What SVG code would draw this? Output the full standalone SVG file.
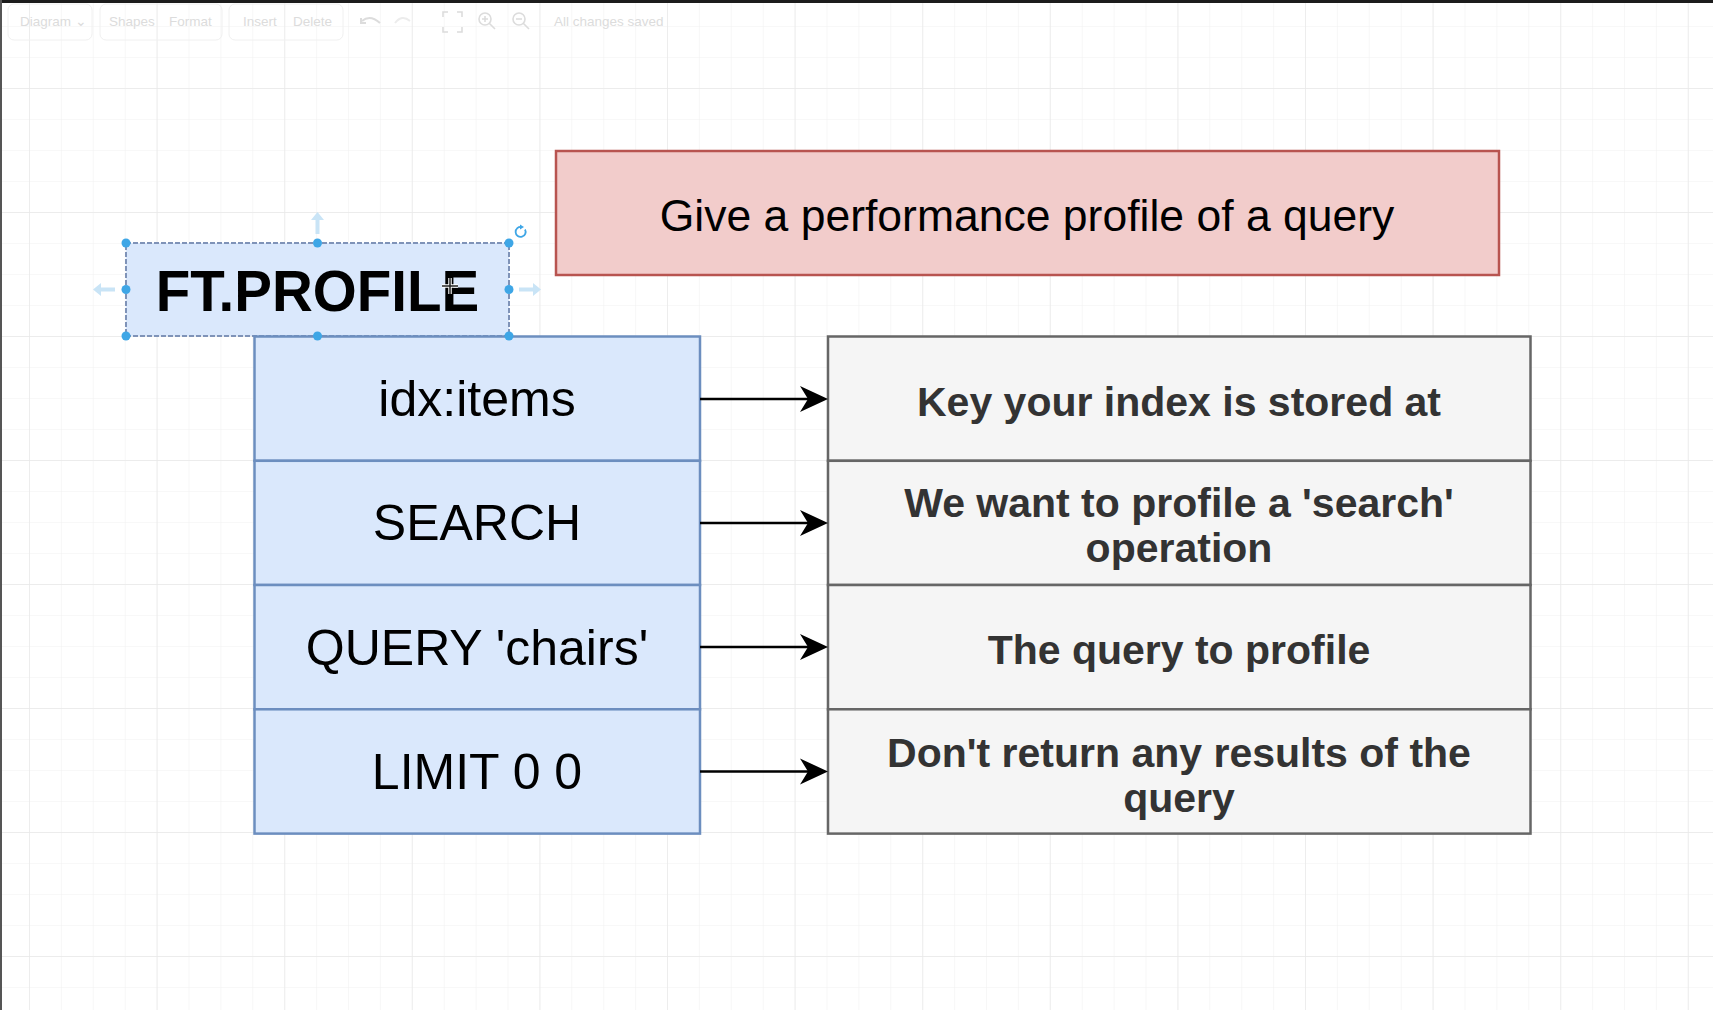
<svg xmlns="http://www.w3.org/2000/svg" width="1713" height="1010" viewBox="0 0 1713 1010">
<defs>
<style>
.tb{font-family:"Liberation Sans",Arial,sans-serif;font-size:13.5px;fill:#dcdcdc}
.tbbox{fill:none;stroke:#f0f0f0;stroke-width:1}
.blue{fill:#dae8fc;stroke:#6c8ebf;stroke-width:2.5}
.grey{fill:#f5f5f5;stroke:#666666;stroke-width:2.5}
.red{fill:#f2cccb;stroke:#b85450;stroke-width:2.5}
.bt{font-family:"Liberation Sans",Arial,sans-serif;font-size:50px;fill:#000;text-anchor:middle}
.gt{font-family:"Liberation Sans",Arial,sans-serif;font-size:41px;font-weight:bold;fill:#333;text-anchor:middle}
.rt{font-family:"Liberation Sans",Arial,sans-serif;font-size:44.5px;fill:#000;text-anchor:middle}
.ft{font-family:"Liberation Sans",Arial,sans-serif;font-size:56.5px;font-weight:bold;fill:#000;text-anchor:middle}
.conn{stroke:#000;stroke-width:2.5;fill:none}
.head{fill:#000}
.hdl{fill:#3ea6e6}
.hover{fill:#c9e4f6}
</style>
<pattern id="minor" patternUnits="userSpaceOnUse" x="29" y="88" width="31.9" height="31">
<path d="M0 0V31M0 0H31.9" stroke="#f2f2f2" stroke-width="1.2" fill="none"/>
</pattern>
<pattern id="major" patternUnits="userSpaceOnUse" x="29" y="88" width="127.6" height="124">
<path d="M0 0V124M0 0H127.6" stroke="#e9e9e9" stroke-width="1.4" fill="none"/>
</pattern>
</defs>

<rect x="0" y="0" width="1713" height="1010" fill="#ffffff"/>
<rect x="0" y="0" width="1713" height="1010" fill="url(#minor)"/>
<rect x="0" y="0" width="1713" height="1010" fill="url(#major)"/>
<rect x="0" y="0" width="1713" height="3" fill="#1c1c1c"/>
<rect x="0" y="0" width="2" height="1010" fill="#555555"/>

<g id="toolbar">
<rect class="tbbox" x="8" y="4" width="84" height="36" rx="6"/>
<rect class="tbbox" x="100" y="4" width="122" height="36" rx="6"/>
<rect class="tbbox" x="229" y="4" width="114" height="36" rx="6"/>
<text class="tb" x="20" y="26">Diagram ⌄</text>
<text class="tb" x="109" y="26">Shapes</text>
<text class="tb" x="169" y="26">Format</text>
<text class="tb" x="243" y="26">Insert</text>
<text class="tb" x="293" y="26">Delete</text>
<path d="M362 21 q8 -7 18 2 M361 18 v5 h5" stroke="#dcdcdc" stroke-width="2" fill="none"/>
<path d="M410 21 q-8 -7 -15 2" stroke="#ececec" stroke-width="2" fill="none"/>
<path d="M443 17v-5h5M457 12h5v5M462 27v5h-5M448 32h-5v-5" stroke="#dcdcdc" stroke-width="1.6" fill="none"/>
<circle cx="485" cy="19" r="6" stroke="#dcdcdc" stroke-width="1.6" fill="none"/>
<path d="M489 23l6 6M482 19h6M485 16v6" stroke="#dcdcdc" stroke-width="1.6"/>
<circle cx="519" cy="19" r="6" stroke="#dcdcdc" stroke-width="1.6" fill="none"/>
<path d="M523 23l6 6M516 19h6" stroke="#dcdcdc" stroke-width="1.6"/>
<text class="tb" x="554" y="26">All changes saved</text>
</g>

<g id="title-node">
<rect class="red" x="556" y="151" width="943" height="124"/>
<text class="rt" x="1027" y="231">Give a performance profile of a query</text>
</g>

<g id="ftprofile">
<rect x="126" y="243" width="383" height="93" fill="#dae8fc" stroke="#7f93b8" stroke-width="2" stroke-dasharray="5 2"/>
<text class="ft" x="317.5" y="311">FT.PROFILE</text>
</g>

<g id="arg-idx">
<rect class="blue" x="254.5" y="336.5" width="445.5" height="124.3"/>
<text class="bt" x="477" y="415.5">idx:items</text>
</g>
<g id="arg-search">
<rect class="blue" x="254.5" y="460.8" width="445.5" height="124.2"/>
<text class="bt" x="477" y="540">SEARCH</text>
</g>
<g id="arg-query">
<rect class="blue" x="254.5" y="585" width="445.5" height="124.3"/>
<text class="bt" x="477" y="664.5">QUERY 'chairs'</text>
</g>
<g id="arg-limit">
<rect class="blue" x="254.5" y="709.3" width="445.5" height="124.3"/>
<text class="bt" x="477" y="789">LIMIT 0 0</text>
</g>

<g id="desc-idx">
<rect class="grey" x="828" y="336.5" width="702.5" height="124.3"/>
<text class="gt" x="1179" y="416">Key your index is stored at</text>
</g>
<g id="desc-search">
<rect class="grey" x="828" y="460.8" width="702.5" height="124.2"/>
<text class="gt" x="1179" y="517">We want to profile a 'search'</text>
<text class="gt" x="1179" y="562">operation</text>
</g>
<g id="desc-query">
<rect class="grey" x="828" y="585" width="702.5" height="124.3"/>
<text class="gt" x="1179" y="664">The query to profile</text>
</g>
<g id="desc-limit">
<rect class="grey" x="828" y="709.3" width="702.5" height="124.3"/>
<text class="gt" x="1179" y="767">Don't return any results of the</text>
<text class="gt" x="1179" y="812">query</text>
</g>

<g id="connectors">
<path class="conn" d="M700 399H810"/>
<path class="head" d="M828 399L800 386L808 399L800 412Z"/>
<path class="conn" d="M700 523H810"/>
<path class="head" d="M828 523L800 510L808 523L800 536Z"/>
<path class="conn" d="M700 647H810"/>
<path class="head" d="M828 647L800 634L808 647L800 660Z"/>
<path class="conn" d="M700 771.5H810"/>
<path class="head" d="M828 771.5L800 758.5L808 771.5L800 784.5Z"/>
</g>

<g id="selection">
<circle class="hdl" cx="126" cy="243" r="4.5"/>
<circle class="hdl" cx="317.5" cy="243" r="4.5"/>
<circle class="hdl" cx="509" cy="243" r="4.5"/>
<circle class="hdl" cx="126" cy="289.5" r="4.5"/>
<circle class="hdl" cx="509" cy="289.5" r="4.5"/>
<circle class="hdl" cx="126" cy="336" r="4.5"/>
<circle class="hdl" cx="317.5" cy="336" r="4.5"/>
<circle class="hdl" cx="509" cy="336" r="4.5"/>
<path class="hover" d="M317.5 212L324 220H319.5V234H315.5V220H311Z"/>
<path class="hover" d="M93 289.5L101 283V287.5H115V291.5H101V296Z"/>
<path class="hover" d="M541 289.5L533 283V287.5H519V291.5H533V296Z"/>
<path d="M525 229.5A5 5 0 1 1 521.5 227" stroke="#3ea6e6" stroke-width="1.8" fill="none"/>
<path d="M520 224.5L524 227L520 229.5Z" fill="#3ea6e6"/>
<path d="M450 278V294M442 286H458" stroke="#fff" stroke-width="3.5"/>
<path d="M450 278V294M442 286H458" stroke="#222" stroke-width="1.5"/>
</g>
</svg>
